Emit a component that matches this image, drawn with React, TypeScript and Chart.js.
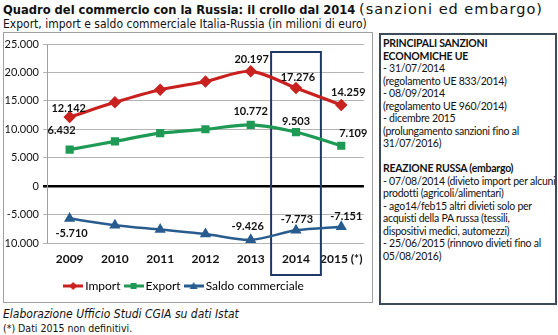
import React, { useEffect, useRef } from "react";
import { Chart, registerables } from "chart.js";

Chart.register(...registerables);

const years = ["2009", "2010", "2011", "2012", "2013", "2014", "2015 (*)"];
const importValues = [12142, 14740, 16960, 18400, 20197, 17276, 14259];
const exportValues = [6432, 7870, 9320, 10000, 10772, 9503, 7109];
const saldoValues = [-5710, -6870, -7640, -8400, -9426, -7773, -7151];
const yTicks = [-10000, -5000, 0, 5000, 10000, 15000, 20000, 25000];
const labelledIdx = [0, 4, 5, 6];
const highlightCategory = "2014";

const sanzioniLines = [
  "- 31/07/2014",
  "(regolamento UE 833/2014)",
  "- 08/09/2014",
  "(regolamento UE 960/2014)",
  "- dicembre 2015",
  "(prolungamento sanzioni fino al",
  "31/07/2016)",
];
const reazioneLines = [
  "- 07/08/2014 (divieto import per alcuni",
  "prodotti (agricoli/alimentari)",
  "- ago14/feb15 altri divieti solo per",
  "acquisti della PA russa (tessili,",
  "dispositivi medici, automezzi)",
  "- 25/06/2015 (rinnovo divieti fino al",
  "05/08/2016)",
];

const fmt = (v: number) => {
  const s = Math.abs(v).toString().replace(/\B(?=(\d{3})+(?!\d))/g, ".");
  return (v < 0 ? "-" : "") + s;
};

const RED = "#c8211f";
const GREEN = "#1f9a55";
const BLUE = "#285c8e";

// label offsets [dx, dy] per dataset for labelled indices
const labelOffsets: number[][][] = [
  [[-1, -9], [1, -12], [2, -10], [7, -13]],
  [[-8, -19], [0, -13], [0, -11], [12, -12]],
  [[2, 15], [-3, -13], [1, -11], [5, -10]],
];

function legendIcon(color: string, style: string) {
  const c = document.createElement("canvas");
  c.width = 20;
  c.height = 10;
  const g = c.getContext("2d")!;
  g.strokeStyle = color;
  g.lineWidth = 3;
  g.beginPath();
  g.moveTo(0, 5);
  g.lineTo(20, 5);
  g.stroke();
  g.fillStyle = color;
  g.beginPath();
  if (style === "rectRot") {
    g.moveTo(10, 1);
    g.lineTo(14, 5);
    g.lineTo(10, 9);
    g.lineTo(6, 5);
  } else if (style === "rect") {
    g.rect(7, 2, 6, 6);
  } else {
    g.moveTo(10, 1);
    g.lineTo(14, 8);
    g.lineTo(6, 8);
  }
  g.closePath();
  g.fill();
  return c;
}

const overlayPlugin = {
  id: "overlay",
  beforeDatasetsDraw(chart: any) {
    const { ctx, chartArea } = chart;
    const x = chart.scales.x;
    const idx = years.indexOf(highlightCategory);
    const cx = x.getPixelForValue(idx);
    const step = x.getPixelForValue(1) - x.getPixelForValue(0);
    ctx.save();
    ctx.strokeStyle = "#1f3864";
    ctx.lineWidth = 2;
    ctx.strokeRect(cx - step * 0.55, chartArea.top + 8, step * 1.1, chartArea.bottom + 32 - (chartArea.top + 8));
    ctx.restore();
  },
  afterDatasetsDraw(chart: any) {
    const { ctx } = chart;
    ctx.save();
    ctx.font = "bold 11px Lato, 'DejaVu Sans', sans-serif";
    ctx.fillStyle = "#111";
    ctx.textAlign = "center";
    ctx.textBaseline = "middle";
    chart.data.datasets.forEach((ds: any, di: number) => {
      const meta = chart.getDatasetMeta(di);
      labelledIdx.forEach((i, k) => {
        const el = meta.data[i];
        const [dx, dy] = labelOffsets[di][k];
        ctx.fillText(fmt(ds.data[i]), el.x + dx, el.y + dy);
      });
    });
    ctx.restore();
  },
};

function ChartBox() {
  const ref = useRef<HTMLCanvasElement>(null);
  useEffect(() => {
    const chart = new Chart(ref.current!, {
      type: "line",
      data: {
        labels: years,
        datasets: [
          {
            label: "Import",
            data: importValues,
            borderColor: RED,
            backgroundColor: RED,
            borderWidth: 3.2,
            pointStyle: "rectRot",
            pointRadius: 4,
            tension: 0.3,
          },
          {
            label: "Export",
            data: exportValues,
            borderColor: GREEN,
            backgroundColor: GREEN,
            borderWidth: 3.2,
            pointStyle: "rect",
            pointRadius: 3.5,
            tension: 0.3,
          },
          {
            label: "Saldo commerciale",
            data: saldoValues,
            borderColor: BLUE,
            backgroundColor: BLUE,
            borderWidth: 2.5,
            pointStyle: "triangle",
            pointRadius: 4,
            tension: 0.3,
          },
        ],
      },
      options: {
        animation: false,
        responsive: false,
        devicePixelRatio: 1,
        layout: { padding: { left: 0, right: 5, top: 11, bottom: 0 } },
        plugins: {
          tooltip: { enabled: false },
          legend: {
            position: "bottom",
            labels: {
              usePointStyle: true,
              padding: 7,
              color: "#222",
              font: { family: "Lato, 'DejaVu Sans', sans-serif", size: 12 },
              generateLabels(chart: any) {
                const styles = ["rectRot", "rect", "triangle"];
                return chart.data.datasets.map((ds: any, i: number) => ({
                  text: ds.label,
                  pointStyle: legendIcon(ds.borderColor, styles[i]),
                  fillStyle: ds.borderColor,
                  strokeStyle: ds.borderColor,
                  lineWidth: 0,
                  datasetIndex: i,
                  hidden: false,
                }));
              },
            },
          },
        },
        scales: {
          x: {
            offset: true,
            grid: { display: false, drawTicks: false },
            border: { display: false },
            ticks: {
              padding: 9,
              maxRotation: 0,
              minRotation: 0,
              autoSkip: false,
              color: "#111",
              font: { family: "Lato, 'DejaVu Sans', sans-serif", size: 12, weight: "bold" },
            },
            afterFit(scale: any) {
              scale.height = 30;
            },
          },
          y: {
            min: -10000,
            max: 25000,
            afterBuildTicks(scale: any) {
              scale.ticks = yTicks.map((v) => ({ value: v }));
            },
            grid: {
              color: (c: any) => (c.tick && c.tick.value === 0 ? "#000" : "#b4b4b4"),
              lineWidth: (c: any) => (c.tick && c.tick.value === 0 ? 2.5 : 1),
              tickLength: 4,
            },
            border: { color: "#a0a0a0" },
            ticks: {
              padding: 4,
              color: "#111",
              font: { family: "Lato, 'DejaVu Sans', sans-serif", size: 11 },
              callback: (v: any) => fmt(Number(v)),
            },
            afterFit(scale: any) {
              scale.width = 43;
            },
          },
        },
      },
      plugins: [overlayPlugin],
    });
    return () => chart.destroy();
  }, []);
  return <canvas ref={ref} width={368} height={269} style={{ display: "block" }} />;
}

export default function App() {
  const boxFont = "Lato, 'Open Sans', sans-serif";
  return (
    <div style={{ position: "absolute", left: 0, top: 0, width: 558, height: 335, background: "#fff", overflow: "hidden", fontFamily: "'DejaVu Sans Condensed', 'DejaVu Sans', sans-serif", color: "#111" }}>
      <div style={{ position: "absolute", left: 3, top: 1, whiteSpace: "nowrap", fontSize: 12.8, lineHeight: "16px" }}>
        <b>Quadro del commercio con la Russia: il crollo dal 2014</b>{" "}
        <span style={{ fontFamily: "'DejaVu Sans', sans-serif", fontSize: 14.5, letterSpacing: 1 }}>(sanzioni ed embargo)</span>
      </div>
      <div style={{ position: "absolute", left: 3, top: 17, whiteSpace: "nowrap", fontSize: 12, lineHeight: "14px" }}>
        Export, import e saldo commerciale Italia-Russia (in milioni di euro)
      </div>
      <div style={{ position: "absolute", left: 3, top: 32, width: 368, height: 269, border: "1px solid #a0a0a0" }}>
        <ChartBox />
      </div>
      <div style={{ position: "absolute", left: 379, top: 33, width: 172, height: 266, border: "2px solid #3d4a58", padding: "2px 0 0 2px", fontFamily: boxFont, fontSize: 10.5, letterSpacing: -0.25, lineHeight: "12.5px", whiteSpace: "nowrap", overflow: "hidden", color: "#111" }}>
        <div style={{ fontWeight: "bold" }}>PRINCIPALI SANZIONI</div>
        <div style={{ fontWeight: "bold" }}>ECONOMICHE UE</div>
        {sanzioniLines.map((l, i) => (
          <div key={"s" + i}>{l}</div>
        ))}
        <div>&nbsp;</div>
        <div style={{ fontWeight: "bold" }}>REAZIONE RUSSA (embargo)</div>
        {reazioneLines.map((l, i) => (
          <div key={"r" + i}>{l}</div>
        ))}
      </div>
      <div style={{ position: "absolute", left: 3, top: 307, whiteSpace: "nowrap", fontSize: 12, lineHeight: "14px", fontStyle: "italic" }}>
        Elaborazione Ufficio Studi CGIA su dati Istat
      </div>
      <div style={{ position: "absolute", left: 3, top: 322, whiteSpace: "nowrap", fontSize: 10.5, lineHeight: "13px" }}>
        (*) Dati 2015 non definitivi.
      </div>
    </div>
  );
}
